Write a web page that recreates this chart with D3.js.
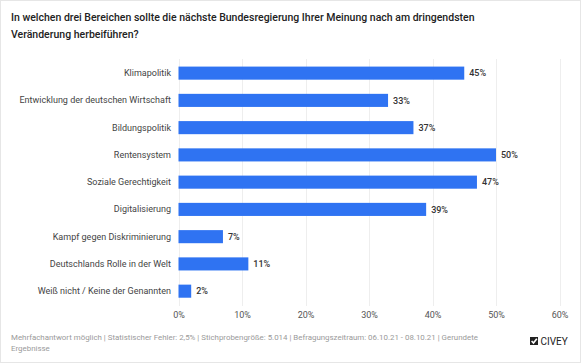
<!DOCTYPE html>
<html>
<head>
<meta charset="utf-8">
<script src="https://cdn.jsdelivr.net/npm/d3@7"></script>
<style>
  body { margin: 0; background: #fff; }
  svg { font-family: Roboto, "Noto Sans", sans-serif; display: block; }
</style>
</head>
<body>
<div class="chart"></div>
<script>
var categories = [
  'Klimapolitik',
  'Entwicklung der deutschen Wirtschaft',
  'Bildungspolitik',
  'Rentensystem',
  'Soziale Gerechtigkeit',
  'Digitalisierung',
  'Kampf gegen Diskriminierung',
  'Deutschlands Rolle in der Welt',
  'Weiß nicht / Keine der Genannten'
];
var values = [45, 33, 37, 50, 47, 39, 7, 11, 2];
var ticks = [0, 10, 20, 30, 40, 50, 60];
var titleLines = [
  'In welchen drei Bereichen sollte die nächste Bundesregierung Ihrer Meinung nach am dringendsten',
  'Veränderung herbeiführen?'
];
var footLines = [
  'Mehrfachantwort möglich | Statistischer Fehler: 2,5% | Stichprobengröße: 5.014 | Befragungszeitraum: 06.10.21 - 08.10.21 | Gerundete',
  'Ergebnisse'
];

var w = 582, h = 364;
var barColor = '#2f73f2';

var svg = d3.select('.chart').append('svg')
  .attr('width', w)
  .attr('height', h);

// frame
svg.append('rect')
  .attr('x', 0.5).attr('y', 0.5)
  .attr('width', w - 2).attr('height', h - 2)
  .attr('fill', '#fff')
  .attr('stroke', '#e6e6e6');

// title
svg.append('text')
  .attr('font-size', 10.5)
  .attr('font-weight', 500)
  .attr('fill', '#222')
  .selectAll('tspan').data(titleLines).enter()
  .append('tspan')
  .attr('x', 11)
  .attr('y', function(d, i) { return 21 + i * 16.5; })
  .text(function(d) { return d; });

var x = d3.scaleLinear().domain([0, 60]).range([178.5, 559.5]);
var y = d3.scaleBand().domain(categories).range([59.5, 304.8]).paddingInner(0.52).paddingOuter(0.26);

// grid
svg.append('g').selectAll('line').data(ticks).enter()
  .append('line')
  .attr('x1', function(d) { return Math.round(x(d)) + 0.5; })
  .attr('x2', function(d) { return Math.round(x(d)) + 0.5; })
  .attr('y1', 59)
  .attr('y2', 306)
  .attr('stroke', '#eeeeee');

// x axis labels
var xAxis = svg.append('g')
  .attr('transform', 'translate(0,306)')
  .call(d3.axisBottom(x).tickValues(ticks).tickSize(0).tickPadding(6)
    .tickFormat(function(d) { return d + '%'; }));
xAxis.select('.domain').remove();
xAxis.selectAll('text')
  .attr('font-family', 'Roboto, sans-serif')
  .attr('font-size', 9)
  .attr('fill', '#555');

// y axis labels
var yAxis = svg.append('g')
  .attr('transform', 'translate(178,0)')
  .call(d3.axisLeft(y).tickSize(0).tickPadding(7));
yAxis.select('.domain').remove();
yAxis.selectAll('text')
  .attr('font-family', 'Roboto, sans-serif')
  .attr('font-size', 9)
  .attr('fill', '#444');

// bars
svg.append('g').selectAll('rect').data(values).enter()
  .append('rect')
  .attr('x', x(0))
  .attr('y', function(d, i) { return y(categories[i]); })
  .attr('width', function(d) { return x(d) - x(0); })
  .attr('height', y.bandwidth())
  .attr('fill', barColor);

// value labels
svg.append('g').selectAll('text').data(values).enter()
  .append('text')
  .attr('x', function(d) { return x(d) + 5; })
  .attr('y', function(d, i) { return y(categories[i]) + y.bandwidth() / 2; })
  .attr('dy', '0.35em')
  .attr('font-size', 9)
  .attr('font-weight', 500)
  .attr('fill', '#333')
  .text(function(d) { return d + '%'; });

// footer
svg.append('text')
  .attr('font-size', 7.9)
  .attr('fill', '#9a9a9a')
  .selectAll('tspan').data(footLines).enter()
  .append('tspan')
  .attr('x', 11)
  .attr('y', function(d, i) { return 339.5 + i * 11.5; })
  .text(function(d) { return d; });

// logo
var logo = svg.append('g').attr('transform', 'translate(530,337)');
logo.append('rect')
  .attr('width', 8).attr('height', 8)
  .attr('fill', '#222');
logo.append('path')
  .attr('d', 'M1.6,4 L3.5,6 L6.8,1.8')
  .attr('fill', 'none')
  .attr('stroke', '#fff')
  .attr('stroke-width', 1.6);
logo.append('text')
  .attr('x', 10.5)
  .attr('y', 8)
  .attr('font-size', 10)
  .attr('fill', '#222')
  .text('CIVEY');
</script>
</body>
</html>
